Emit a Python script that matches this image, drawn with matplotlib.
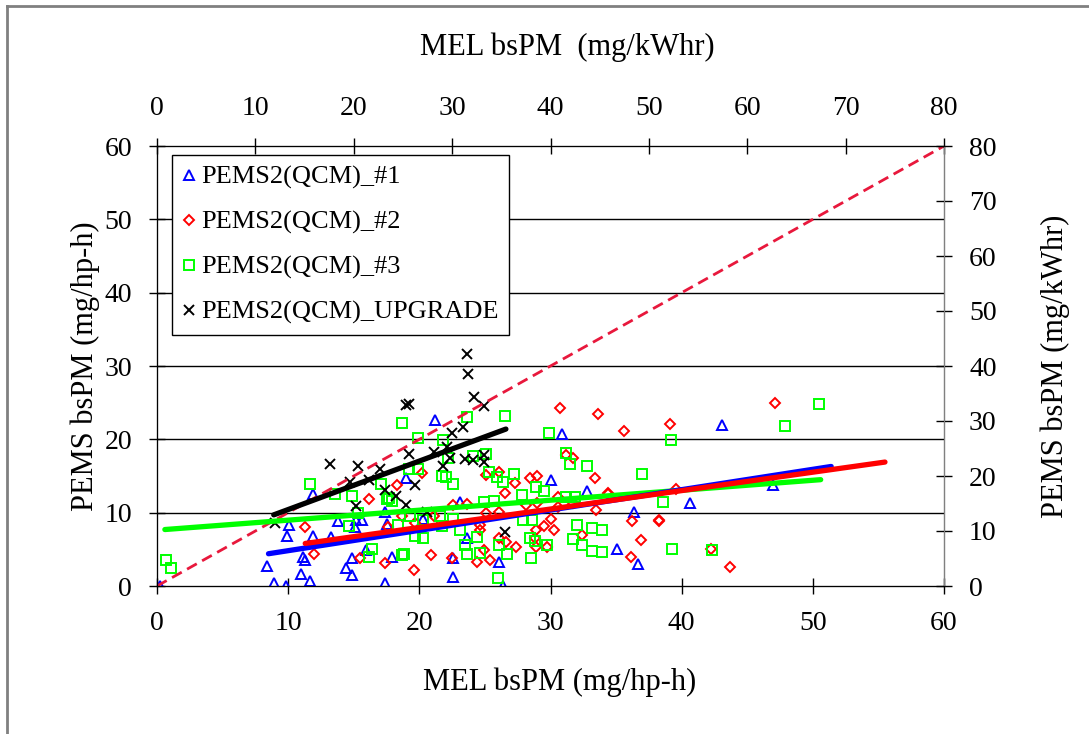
import numpy as np
import matplotlib.pyplot as plt
from matplotlib.lines import Line2D

plt.rcParams['font.family'] = ['Liberation Serif', 'DejaVu Serif']

# PEMS2(QCM)_#1  (MEL bsPM, PEMS bsPM) in mg/hp-h
mel_1 = [0.2, 8.4, 8.9, 9.8, 9.9, 10.1, 11.0, 11.1, 11.3, 11.7, 11.9, 11.9, 13.3, 13.8,
         14.4, 14.9, 14.9, 15.1, 15.2, 15.6, 15.9, 17.4, 17.4, 17.5, 17.9, 19.0, 21.2,
         30.9, 30.0, 32.8, 23.1, 36.4, 23.6, 22.6, 22.6, 26.1, 26.4, 35.1, 36.7, 20.3,
         43.1, 40.6, 47.0]
pems_1 = [0.0, 2.7, 0.4, 0.0, 6.8, 8.3, 1.6, 3.9, 3.5, 0.7, 12.5, 6.8, 6.7, 8.9,
          2.5, 1.5, 3.8, 8.1, 9.0, 9.0, 4.9, 0.4, 10.1, 8.5, 4.0, 14.7, 22.6,
          20.7, 14.5, 13.0, 11.5, 10.1, 6.6, 3.8, 1.2, 3.3, 0.0, 5.0, 3.0, 9.2,
          22.0, 11.3, 13.8]

# PEMS2(QCM)_#2
mel_2 = [11.3, 12.0, 15.5, 16.2, 17.4, 18.3, 18.7, 17.6, 19.6, 20.9, 22.5, 24.4, 24.9,
         25.4, 25.1, 26.1, 27.3, 26.5, 28.4, 29.0, 30.7, 33.6, 35.6, 31.2, 31.7, 33.4,
         30.6, 34.4, 33.5, 36.2, 38.3, 36.9, 36.1, 32.4, 29.5, 30.3, 30.0, 28.9, 28.8,
         29.7, 27.4, 28.9, 26.6, 26.1, 24.6, 24.6, 25.1, 26.1, 23.6, 22.6, 21.1, 19.7,
         20.2, 28.1, 29.0, 30.6, 31.7, 34.4, 39.1, 47.1, 38.3, 42.2, 43.7, 39.6]
pems_2 = [8.0, 4.4, 3.8, 11.8, 3.2, 13.8, 9.5, 8.0, 2.2, 4.2, 3.8, 3.3, 4.9,
          3.5, 15.1, 15.6, 14.0, 12.7, 14.7, 15.0, 24.3, 23.5, 21.1, 17.9, 17.4, 14.7,
          12.2, 12.5, 10.4, 8.8, 9.0, 6.3, 3.9, 7.0, 8.2, 7.6, 9.2, 7.7, 6.5,
          5.3, 5.3, 5.3, 6.0, 6.5, 7.6, 8.3, 9.9, 10.1, 11.2, 11.0, 9.5, 8.6,
          15.4, 11.0, 11.3, 10.8, 11.3, 12.7, 22.1, 25.0, 8.9, 5.1, 2.6, 13.2]

# PEMS2(QCM)_#3
mel_3 = [0.7, 1.1, 11.7, 18.65, 13.6, 14.9, 15.3, 14.6, 17.1, 17.5, 17.7, 17.9, 18.4,
         16.4, 16.2, 18.7, 19.2, 23.6, 26.5, 19.9, 21.8, 22.2, 24.1, 25.1, 19.9, 21.7,
         22.0, 22.6, 25.3, 25.9, 26.4, 27.2, 28.9, 29.5, 27.8, 31.2, 31.5, 32.8, 29.9,
         37.0, 31.2, 31.9, 24.9, 25.7, 19.3, 20.3, 21.6, 22.6, 21.7, 23.1, 24.4, 20.3,
         19.7, 23.5, 23.6, 24.6, 26.1, 26.7, 26.0, 27.9, 28.6, 28.4, 28.8, 29.7, 28.5,
         32.0, 33.2, 33.9, 31.7, 32.4, 33.2, 33.9, 18.8, 39.2, 50.5, 47.9, 38.6, 39.3,
         42.3]
pems_3 = [3.5, 2.4, 13.9, 22.2, 12.6, 12.3, 9.9, 8.2, 13.9, 11.8, 12.0, 11.6, 8.3,
          5.1, 3.9, 4.2, 16.0, 23.0, 23.2, 20.2, 19.9, 17.5, 17.7, 18.0, 16.0, 15.0,
          14.8, 13.9, 15.6, 14.9, 14.2, 15.3, 13.5, 12.9, 12.4, 18.2, 16.6, 16.3, 20.8,
          15.3, 12.1, 12.1, 11.5, 11.6, 9.5, 9.0, 9.5, 9.2, 8.2, 7.6, 6.7, 6.5,
          6.8, 5.6, 4.4, 4.5, 5.6, 4.4, 1.05, 9.0, 9.0, 6.5, 6.2, 5.6, 3.8,
          8.3, 7.9, 7.6, 6.4, 5.6, 4.8, 4.7, 4.4, 19.9, 24.8, 21.8, 11.5, 5.1,
          4.9]

# PEMS2(QCM)_UPGRADE
mel_u = [9.0, 13.2, 15.3, 14.7, 16.2, 17.0, 17.4, 18.2, 15.2, 19.0, 23.6, 23.7, 24.2,
         24.9, 19.2, 23.3, 22.5, 22.1, 21.1, 19.2, 22.3, 21.8, 19.7, 23.5, 24.1, 24.9,
         24.9, 19.0, 20.6, 26.5]
pems_u = [8.55, 16.7, 16.4, 14.2, 14.5, 16.0, 13.1, 12.3, 10.9, 24.7, 31.6, 28.9, 25.8,
          24.5, 24.8, 21.7, 20.9, 19.0, 18.3, 18.0, 17.4, 16.4, 13.8, 17.3, 17.2, 17.9,
          16.9, 11.0, 10.1, 7.4]

# linear fit lines (start, end)
fit_x_1, fit_y_1 = [8.5, 51.4], [4.4, 16.3]
fit_x_2, fit_y_2 = [11.3, 55.5], [5.8, 16.9]
fit_x_3, fit_y_3 = [0.6, 50.6], [7.7, 14.5]
fit_x_u, fit_y_u = [8.9, 26.6], [9.7, 21.4]
one_to_one = [0, 60]

styles = [dict(marker='^', ms=7, mfc='none', mec='#0000ff', mew=1.4),
          dict(marker='D', ms=5.5, mfc='none', mec='#ff0000', mew=1.4),
          dict(marker='s', ms=7.5, mfc='none', mec='#00ff00', mew=1.4),
          dict(marker='x', ms=7, mec='black', mew=1.4)]
labels = ['PEMS2(QCM)_#1', 'PEMS2(QCM)_#2', 'PEMS2(QCM)_#3', 'PEMS2(QCM)_UPGRADE']

fig = plt.figure(figsize=(10.89, 7.34), dpi=100)
ax = fig.add_axes([157 / 1089, 1 - 586 / 734, 787 / 1089, 440 / 734])

for xs, ys, st in zip([mel_1, mel_2, mel_3, mel_u], [pems_1, pems_2, pems_3, pems_u], styles):
    ax.plot(xs, ys, ls='none', zorder=3, **st)

ax.plot(one_to_one, one_to_one, ls=(0, (4, 2.2)), color='#e8183c', lw=2, zorder=4)
ax.plot(fit_x_3, fit_y_3, color='#00ff00', lw=3.8, solid_capstyle='round', zorder=5)
ax.plot(fit_x_1, fit_y_1, color='#0000ff', lw=3.8, solid_capstyle='round', zorder=5)
ax.plot(fit_x_2, fit_y_2, color='#ff0000', lw=3.8, solid_capstyle='round', zorder=6)
ax.plot(fit_x_u, fit_y_u, color='black', lw=3.8, solid_capstyle='round', zorder=6)

ax.set_xlim(0, 60)
ax.set_ylim(0, 60)
ax.set_xticks(range(0, 61, 10))
ax.set_yticks(range(0, 61, 10))
for yv in range(10, 60, 10):
    ax.axhline(yv, color='black', lw=1, zorder=1)
for side in ['left', 'bottom', 'top']:
    ax.spines[side].set_color('black')
ax.spines['right'].set_color('#808080')
ax.tick_params(direction='inout', length=12, width=1, labelsize=20, pad=12)

ax_top = ax.twiny()
ax_top.set_xlim(0, 80)
ax_top.set_xticks(range(0, 81, 10))
ax_top.tick_params(direction='inout', length=12, width=1, labelsize=20, pad=12)
ax_top.set_xlabel('MEL bsPM  (mg/kWhr)', fontsize=22)
ax_top.xaxis.set_label_coords(0.521, 1.207)

ax_right = ax.twinx()
ax_right.set_ylim(0, 80)
ax_right.set_yticks(range(0, 81, 10))
ax_right.tick_params(direction='inout', length=12, width=1, labelsize=20, pad=12)
ax_right.set_ylabel('PEMS bsPM (mg/kWhr)', fontsize=22)
ax_right.yaxis.set_label_coords(1.122, 0.5)
ax_right.spines['right'].set_color('#808080')

ax.set_xlabel('MEL bsPM (mg/hp-h)', fontsize=22)
ax.xaxis.set_label_coords(0.512, -0.186)
ax.set_ylabel('PEMS bsPM (mg/hp-h)', fontsize=22)
ax.yaxis.set_label_coords(-0.072, 0.5)

handles = [Line2D([], [], ls='none', **st) for st in styles]
leg = ax_right.legend(handles, labels, loc='upper left', bbox_to_anchor=(0.019, 0.98),
                      borderaxespad=0, fancybox=False, edgecolor='black', framealpha=1,
                      fontsize=19, labelspacing=0.8, handlelength=0.5, handletextpad=0.2,
                      borderpad=0.4)
leg.get_frame().set_linewidth(1)

# outer frame (left and top edges)
fig.add_artist(Line2D([7 / 1089, 7 / 1089], [0, 1 - 6 / 734], color='#808080', lw=2))
fig.add_artist(Line2D([7 / 1089, 1], [1 - 6 / 734, 1 - 6 / 734], color='#808080', lw=2))

fig.savefig('out.png', dpi=100)
